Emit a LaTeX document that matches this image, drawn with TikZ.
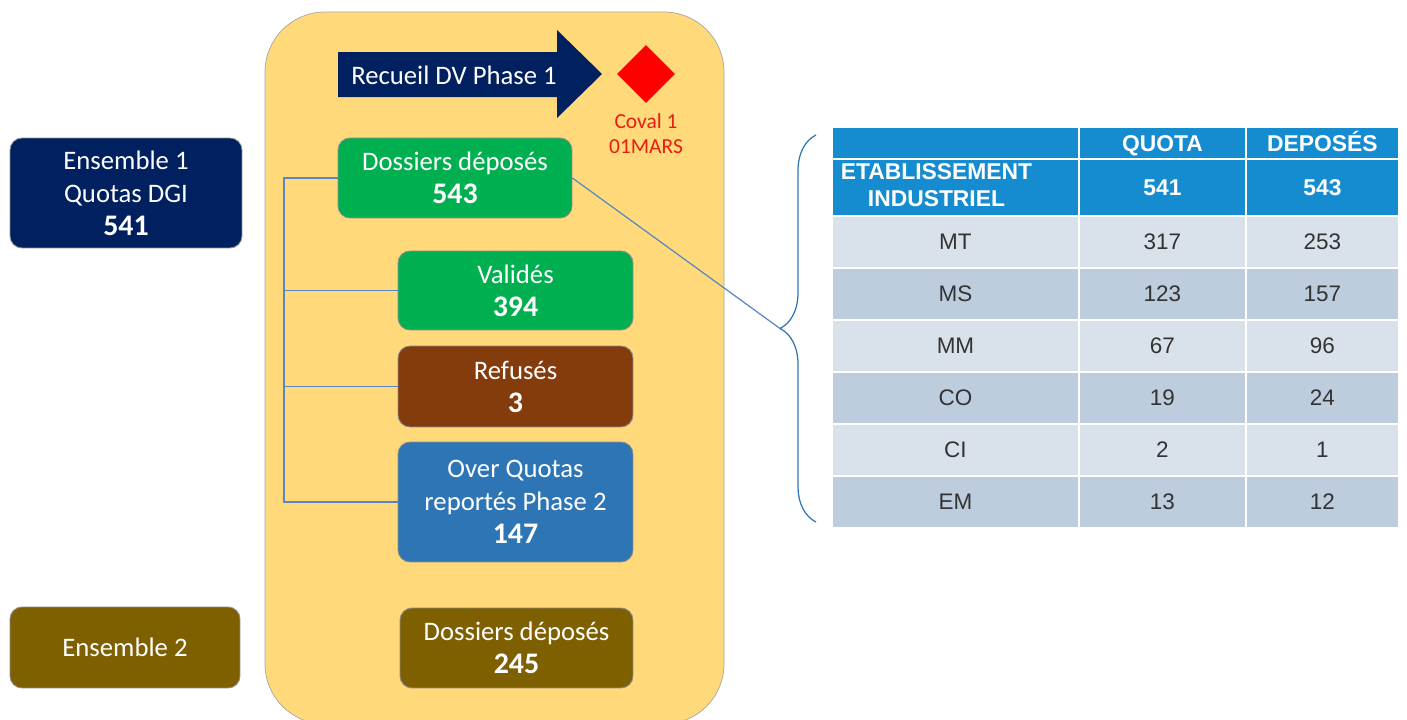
\documentclass[tikz,border=0pt]{standalone}
\usepackage{fontspec}
\setmainfont{Carlito}
\newfontfamily\tabfont{Liberation Sans}
\usetikzlibrary{matrix,shapes.geometric,decorations.pathreplacing}

\definecolor{navy}{RGB}{0,32,96}
\definecolor{vert}{RGB}{0,176,80}
\definecolor{brun}{RGB}{132,60,12}
\definecolor{bleu}{RGB}{46,117,182}
\definecolor{olive}{RGB}{127,96,0}
\definecolor{jaune}{RGB}{255,217,122}
\definecolor{trait}{RGB}{88,135,196}
\definecolor{entete}{RGB}{22,140,208}
\definecolor{clair}{RGB}{217,225,234}
\definecolor{fonce}{RGB}{190,205,222}
\definecolor{rouge}{RGB}{232,30,20}

\newcommand{\nb}[1]{{\fontsize{17}{18.8}\selectfont\bfseries #1}}

\begin{document}
\begin{tikzpicture}[x=0.02cm,y=-0.02cm,
  boite/.style={draw=black!45, line width=0.5pt, rounded corners=0.24cm, text=white, align=center,
    font=\fontsize{15.2}{18.8}\selectfont, inner sep=0pt},
  lien/.style={draw=trait, line width=0.7pt}]
\useasboundingbox (0,0) rectangle (1407,720);

\draw[draw=black!35, fill=jaune, rounded corners=1.2cm] (265,12) rectangle (724,724);

\fill[navy] (338,52) -- (557,52) -- (557,30) -- (602,74) -- (557,118) -- (557,97) -- (338,97) -- cycle;
\node[text=white, font=\fontsize{15.2}{18.8}\selectfont] (phase) at (454,75) {Recueil DV Phase 1};
\node[diamond, fill=red, minimum width=1.16cm, minimum height=1.16cm, inner sep=0pt] (coval) at (646,74) {};
\node[text=rouge, align=center, font=\fontsize{12.2}{14.2}\selectfont] (covaltxt) at (646,134) {Coval 1\\01MARS};

\node[boite, fill=navy, minimum width=4.64cm, minimum height=2.2cm] (ens1) at (126,193) {Ensemble 1\\Quotas DGI\\\nb{541}};
\node[boite, fill=olive, minimum width=4.6cm, minimum height=1.62cm] (ens2) at (125,647.5) {Ensemble 2};

\node[boite, fill=vert, minimum width=4.68cm, minimum height=1.6cm] (dep) at (455,178) {Dossiers déposés\\\nb{543}};
\node[boite, fill=vert, minimum width=4.7cm, minimum height=1.58cm] (val) at (515.5,290.5) {Validés\\\nb{394}};
\node[boite, fill=brun, minimum width=4.7cm, minimum height=1.62cm] (ref) at (515.5,386.5) {Refusés\\\nb{3}};
\node[boite, fill=bleu, minimum width=4.7cm, minimum height=2.4cm] (over) at (515.5,502) {Over Quotas\\reportés Phase 2\\\nb{147}};
\node[boite, fill=olive, minimum width=4.66cm, minimum height=1.6cm] (dep2) at (516.5,648) {Dossiers déposés\\\nb{245}};

\coordinate (tronc) at (284,178);
\draw[lien] (dep.west) -- (tronc) |- (over.west);
\draw[lien] (tronc |- val.west) -- (val.west);
\draw[lien] (tronc |- ref.west) -- (ref.west);

\coordinate (bbas) at (816,522);
\coordinate (bhaut) at (816,135);
\coordinate (pointe) at (780,328.5);
\draw[lien, draw=bleu, decorate, decoration={brace, amplitude=0.72cm}] (bbas) -- (bhaut);
\draw[lien] (dep.east) -- (pointe);

\matrix[matrix of nodes, name=tab, anchor=north west, inner sep=0pt, outer sep=0pt,
  column sep=0.04cm, row sep=0.04cm, nodes in empty cells,
  nodes={anchor=center, inner sep=0pt, text=black!80, minimum height=1cm, font=\tabfont\fontsize{12.8}{15}\selectfont},
  column 1/.style={nodes={minimum width=4.9cm}},
  column 2/.style={nodes={minimum width=3.3cm}},
  column 3/.style={nodes={minimum width=3.02cm}},
  row 1/.style={nodes={fill=entete, text=white, minimum height=0.6cm, text height=9.5pt, text depth=0pt,
    font=\tabfont\bfseries\fontsize{13}{15.6}\selectfont}},
  row 2/.style={nodes={fill=entete, text=white, minimum height=1.1cm, font=\tabfont\bfseries\fontsize{13}{15.6}\selectfont}},
  row 3/.style={nodes={fill=clair}}, row 4/.style={nodes={fill=fonce}},
  row 5/.style={nodes={fill=clair}}, row 6/.style={nodes={fill=fonce}},
  row 7/.style={nodes={fill=clair}}, row 8/.style={nodes={fill=fonce}}]
  at (833,128) {
 & QUOTA & DEPOSÉS \\
{\begin{tabular}{@{}c@{}}ETABLISSEMENT\\INDUSTRIEL\end{tabular}\hspace*{0.76cm}} & 541 & 543 \\
MT & 317 & 253 \\
MS & 123 & 157 \\
MM & 67 & 96 \\
CO & 19 & 24 \\
CI & 2 & 1 \\
EM & 13 & 12 \\
};
\end{tikzpicture}
\end{document}
